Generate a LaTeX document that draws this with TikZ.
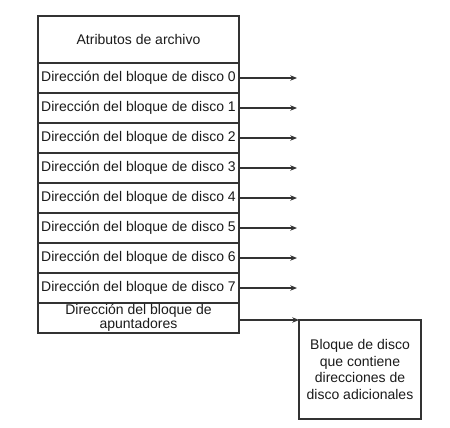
\documentclass[tikz,border=0pt]{standalone}
\usepackage{fontspec}
\setmainfont{Liberation Sans}
\usetikzlibrary{arrows.meta}
\definecolor{linec}{HTML}{333333}
\definecolor{textc}{HTML}{1A1A1A}
\begin{document}
\begin{tikzpicture}[x=0.75pt,y=-0.75pt,
  cell/.style={draw=linec,line width=0.9pt,minimum width=201*0.75pt,inner sep=0pt,outer sep=0pt,text=textc,font=\fontsize{10.5}{12}\selectfont,align=center,anchor=north west},
  conn/.style={draw=linec,line width=0.9pt,-{Stealth[length=5pt,width=4pt,inset=1.5pt]}},
  ]
\useasboundingbox (0,0) rectangle (450,428);
\node[cell,minimum height=47*0.75pt] (attr) at (38,16) {Atributos de archivo};
\foreach \i in {0,...,7}{
  \node[cell,minimum height=30*0.75pt] (r\i) at (38,63+30*\i) {Dirección del bloque de disco \i};
  \coordinate (e\i) at (297,78+30*\i);
  \draw[conn] (r\i.east) -- (e\i);
}
\node[cell,minimum height=30*0.75pt,font=\fontsize{10.5}{9.75}\selectfont] (ptr) at (38,303) {Dirección del bloque de\\apuntadores};
\node[cell,minimum width=122*0.75pt,minimum height=99*0.75pt,font=\fontsize{10.5}{12.4}\selectfont] (blk) at (299,320) {Bloque de disco\\que contiene\\direcciones de\\disco adicionales};
\draw[conn] (ptr.east |- blk.north) -- (blk.north west);
\end{tikzpicture}
\end{document}
